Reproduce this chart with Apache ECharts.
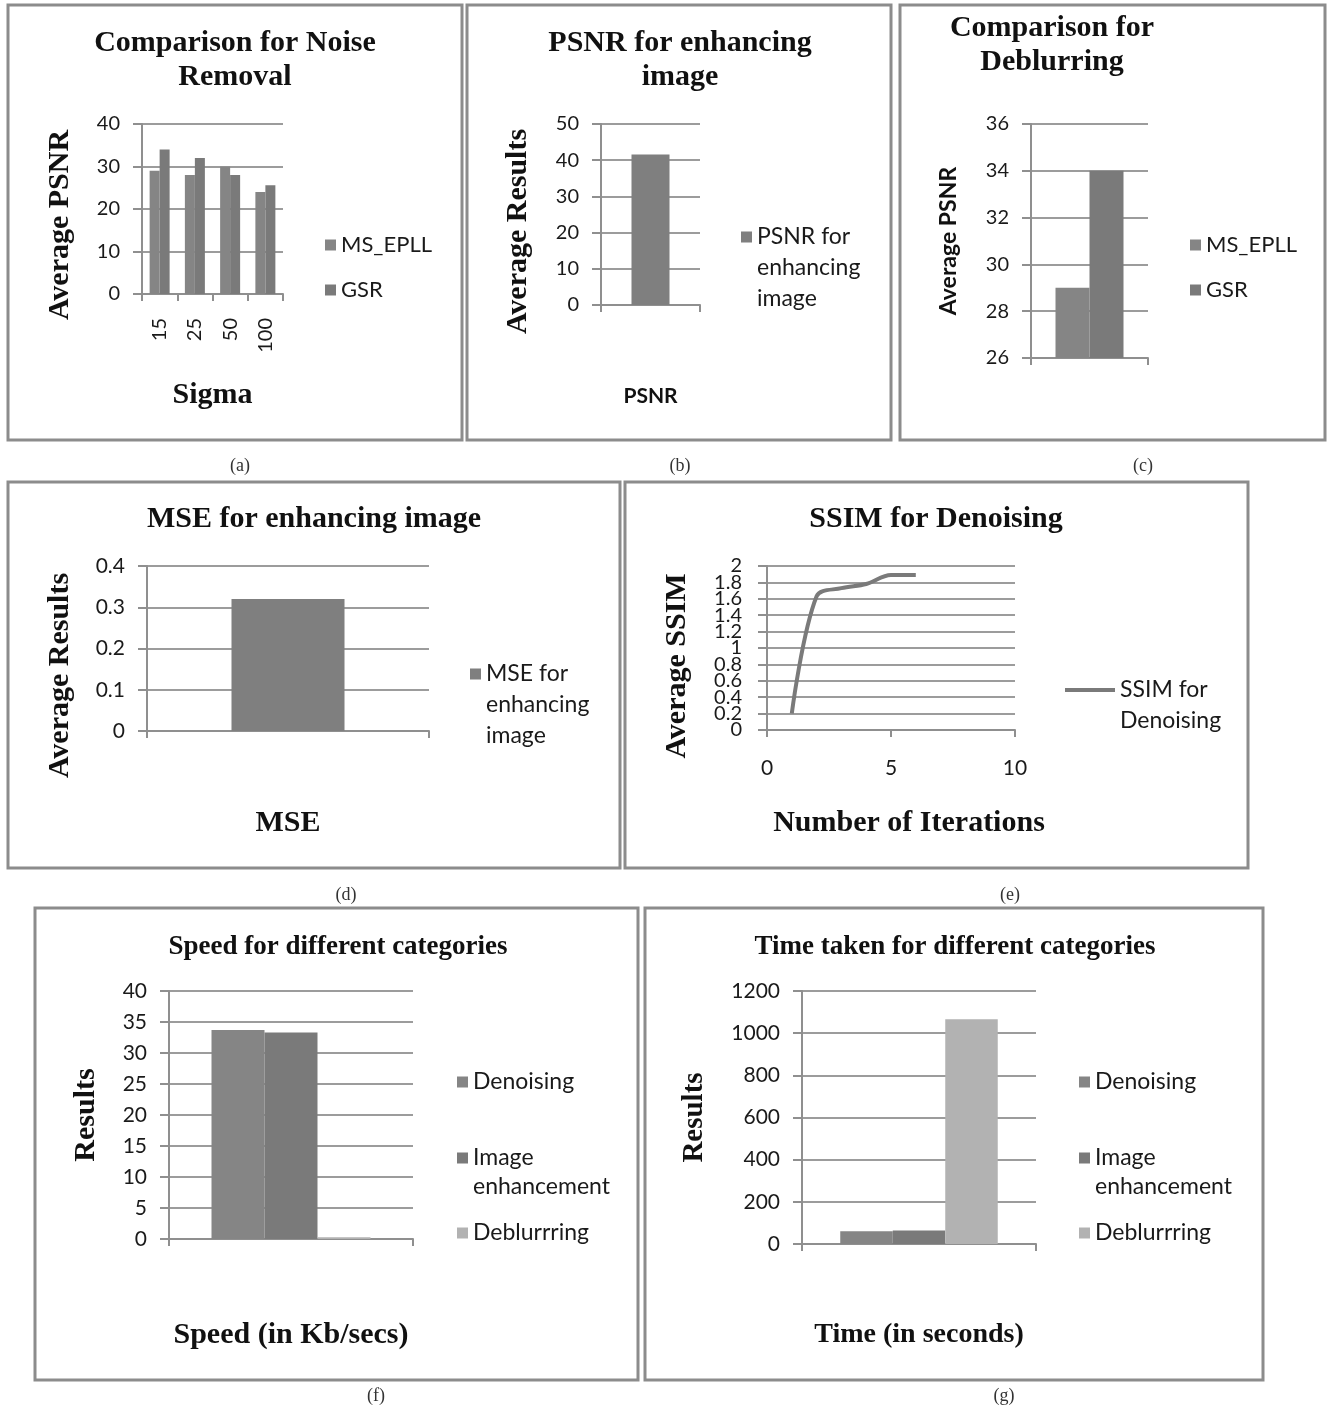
<!DOCTYPE html>
<html>
<head>
<meta charset="utf-8">
<script src="https://cdn.jsdelivr.net/npm/echarts@6/dist/echarts.min.js"></script>
<style>html,body{margin:0;padding:0;background:#fff;}#c{width:1328px;height:1409px;}</style>
</head>
<body>
<div id="c"></div>
<script>
// ---------- data ----------
const noiseSigma = ['15', '25', '50', '100'];
const noiseMSEPLL = [29, 28, 30, 24];
const noiseGSR = [34, 32, 28, 25.6];
const psnrEnhance = [41.6];
const deblurMSEPLL = [29];
const deblurGSR = [34];
const mseEnhance = [0.32];
const ssimIterations = [1, 2, 3, 4, 5, 6];
const ssimValues = [0.2, 1.63, 1.73, 1.78, 1.89, 1.89];
const categoryNames = ['Denoising', 'Image enhancement', 'Deblurrring'];
const speedValues = [33.7, 33.3, 0.3];
const timeValues = [60, 64, 1066];
// axis ranges [min, max, interval]
const rangeA = [0, 40, 10];
const rangeB = [0, 50, 10];
const rangeC = [26, 36, 2];
const rangeD = [0, 0.4, 0.1];
const rangeEy = [0, 2, 0.2];
const rangeEx = [0, 10, 5];
const rangeF = [0, 40, 5];
const rangeG = [0, 1200, 200];

// ---------- styles ----------
const SERIF = '"Liberation Serif", "Times New Roman", serif';
const SANS = 'Lato, "Open Sans", sans-serif';
const AX = '#8f8f8f';
const GRIDC = '#9c9c9c';
const C1 = '#858585', C2 = '#7a7a7a', C3 = '#b2b2b2';
const fmt = v => String(+(+v).toFixed(6));

function nameStyle(size, pad, family, weight) {
  return {fontFamily: family || SERIF, fontWeight: weight || 'bold', fontSize: size, color: '#111', padding: pad || 0};
}
function yAxis(gi, r, name, gap, nsz, pad, fam, lsz, extraLabel) {
  return {
    type: 'value', gridIndex: gi, min: r[0], max: r[1], interval: r[2],
    name: name, nameLocation: 'middle', nameGap: gap, nameTextStyle: nameStyle(nsz, pad, fam),
    axisLine: {show: true, lineStyle: {color: AX, width: 2}},
    axisTick: {show: true, length: 9, lineStyle: {color: AX, width: 2}},
    splitLine: {show: true, lineStyle: {color: GRIDC, width: 2}},
    axisLabel: Object.assign({fontFamily: SANS, fontSize: lsz || 21, color: '#1a1a1a', margin: 22,
      showMinLabel: true, showMaxLabel: true, hideOverlap: false, formatter: fmt}, extraLabel || {})
  };
}
function xCat(gi, cats, name, gap, nsz, pad, fam, showLabel, rotate) {
  return {
    type: 'category', gridIndex: gi, data: cats,
    name: name, nameLocation: 'middle', nameGap: gap, nameTextStyle: nameStyle(nsz, pad, fam),
    axisLine: {show: true, lineStyle: {color: AX, width: 2}},
    axisTick: {show: true, length: 7, lineStyle: {color: AX, width: 2}},
    splitLine: {show: false},
    axisLabel: {show: showLabel, rotate: rotate || 0, fontFamily: SANS, fontSize: 20, color: '#1a1a1a', margin: 24}
  };
}
const wrapMap = {
  'PSNR for enhancing image': 'PSNR for\nenhancing\nimage',
  'MSE for enhancing image': 'MSE for\nenhancing\nimage',
  'SSIM for Denoising': 'SSIM for\nDenoising',
  'Image enhancement': 'Image\nenhancement'
};
// icon path that draws a mark at the top of a taller (invisible) box so it aligns with the first text line
function topIcon(w, h, boxH) {
  return 'path://M0,0 L' + w + ',0 L' + w + ',' + h + ' L0,' + h + ' Z M0,' + boxH + ' L0.01,' + boxH + ' L0.01,' + (boxH - 0.01) + ' Z';
}
function legend(left, top, names, opts) {
  const o = opts || {};
  return {
    left: left, top: top, orient: 'vertical', itemGap: o.gap || 21, padding: 0,
    selectedMode: false, data: names,
    icon: o.icon || 'rect', itemWidth: o.w || 11, itemHeight: o.h || 11,
    formatter: n => wrapMap[n] || n,
    textStyle: {fontFamily: SANS, fontSize: o.size || 23, color: '#1a1a1a', lineHeight: o.lh || 24}
  };
}
function title(text, x, top, size) {
  return {text: text, left: x, top: top, textAlign: 'center', padding: 0,
    textStyle: {fontFamily: SERIF, fontWeight: 'bold', fontSize: size, color: '#111', lineHeight: 34}};
}

// panel (e): the crowded 0..2 labels are split over two axes (even / odd ticks) so none is dropped
const ssimYMain = yAxis(4, rangeEy, 'Average SSIM', 75, 30, [0, 36, 0, 0], SERIF, 20,
  {margin: 25, formatter: (v, i) => (i % 2 === 0 ? fmt(v) : '')});
const ssimYOdd = {
  type: 'value', gridIndex: 4, position: 'left', min: rangeEy[0], max: rangeEy[1], interval: rangeEy[2],
  axisLine: {show: false},
  axisTick: {show: true, length: 9, lineStyle: {color: AX, width: 2}},
  splitLine: {show: false},
  axisLabel: {fontFamily: SANS, fontSize: 20, color: '#1a1a1a', margin: 25,
    showMinLabel: false, showMaxLabel: false, formatter: (v, i) => (i % 2 === 1 ? fmt(v) : '')}
};

const option = {
  animation: false,
  backgroundColor: '#fff',
  title: [
    title('Comparison for Noise\nRemoval', 235, 26, 30),
    title('PSNR for enhancing\nimage', 680, 26, 30),
    title('Comparison for\nDeblurring', 1052, 11, 30),
    title('MSE for enhancing image', 314, 502, 30),
    title('SSIM for Denoising', 936, 502, 30),
    title('Speed for different categories', 338, 930, 27),
    title('Time taken for different categories', 955, 930, 27)
  ],
  grid: [
    {left: 142, top: 124, width: 141, height: 170},
    {left: 601, top: 124, width: 99, height: 181},
    {left: 1031, top: 124, width: 117, height: 234},
    {left: 147, top: 566, width: 282, height: 165},
    {left: 767, top: 566, width: 248, height: 164},
    {left: 169, top: 991, width: 244, height: 248},
    {left: 802, top: 991, width: 234, height: 253}
  ],
  xAxis: [
    xCat(0, noiseSigma, 'Sigma', 86, 30, 0, SERIF, true, 90),
    xCat(1, [''], 'PSNR', 81, 21, 0, SANS, false),
    xCat(2, [''], '', 20, 17, 0, SANS, false),
    xCat(3, [''], 'MSE', 77, 30, 0, SERIF, false),
    {
      type: 'value', gridIndex: 4, min: rangeEx[0], max: rangeEx[1], interval: rangeEx[2],
      name: 'Number of Iterations', nameLocation: 'middle', nameGap: 78,
      nameTextStyle: nameStyle(30, [0, 0, 0, 36]),
      axisLine: {show: true, lineStyle: {color: AX, width: 2}},
      axisTick: {show: true, length: 7, lineStyle: {color: AX, width: 2}},
      splitLine: {show: false},
      axisLabel: {fontFamily: SANS, fontSize: 21, color: '#1a1a1a', margin: 28, showMinLabel: true, showMaxLabel: true}
    },
    xCat(5, [''], 'Speed (in Kb/secs)', 81, 30, 0, SERIF, false),
    xCat(6, [''], 'Time (in seconds)', 77, 28, 0, SERIF, false)
  ],
  yAxis: [
    yAxis(0, rangeA, 'Average PSNR', 67, 30, [0, 32, 0, 0], SERIF, 20),
    yAxis(1, rangeB, 'Average Results', 68, 30, [0, 34, 0, 0], SERIF, 20),
    yAxis(2, rangeC, 'Average PSNR', 71, 23, 0, SANS, 20),
    yAxis(3, rangeD, 'Average Results', 72, 30, [0, 54, 0, 0], SERIF, 21),
    ssimYMain,
    yAxis(5, rangeF, 'Results', 68, 30, 0, SERIF, 21),
    yAxis(6, rangeG, 'Results', 93, 29, 0, SERIF, 21),
    ssimYOdd
  ],
  legend: [
    legend(325, 233, ['MS_EPLL', 'GSR'], {size: 22}),
    legend(741, 237 - 15.5, ['PSNR for enhancing image'], {lh: 31, h: 73, icon: topIcon(11, 11, 73)}),
    legend(1190, 233, ['MS_EPLL', 'GSR'], {size: 22}),
    legend(470, 674 - 15.5, ['MSE for enhancing image'], {lh: 31, h: 73, icon: topIcon(11, 11, 73)}),
    legend(1065, 690 - 15.5, ['SSIM for Denoising'], {lh: 31, w: 50, h: 35, icon: topIcon(50, 4, 35)}),
    legend(457, 1070, ['Denoising']),
    legend(457, 1158 - 14.5, ['Image enhancement'], {lh: 29, h: 40, icon: topIcon(11, 11, 40)}),
    legend(457, 1221, ['Deblurrring']),
    legend(1079, 1070, ['Denoising']),
    legend(1079, 1158 - 14.5, ['Image enhancement'], {lh: 29, h: 40, icon: topIcon(11, 11, 40)}),
    legend(1079, 1221, ['Deblurrring'])
  ],
  series: [
    {type: 'bar', name: 'MS_EPLL', xAxisIndex: 0, yAxisIndex: 0, data: noiseMSEPLL, barWidth: 10, barGap: '0%', itemStyle: {color: C1}},
    {type: 'bar', name: 'GSR', xAxisIndex: 0, yAxisIndex: 0, data: noiseGSR, barWidth: 10, barGap: '0%', itemStyle: {color: C2}},
    {type: 'bar', name: 'PSNR for enhancing image', xAxisIndex: 1, yAxisIndex: 1, data: psnrEnhance, barWidth: 38, itemStyle: {color: '#7f7f7f'}},
    {type: 'bar', name: 'MS_EPLL', xAxisIndex: 2, yAxisIndex: 2, data: deblurMSEPLL, barWidth: 34, barGap: '0%', itemStyle: {color: C1}},
    {type: 'bar', name: 'GSR', xAxisIndex: 2, yAxisIndex: 2, data: deblurGSR, barWidth: 34, barGap: '0%', itemStyle: {color: C2}},
    {type: 'bar', name: 'MSE for enhancing image', xAxisIndex: 3, yAxisIndex: 3, data: mseEnhance, barWidth: 113, itemStyle: {color: '#7f7f7f'}},
    {type: 'line', name: 'SSIM for Denoising', xAxisIndex: 4, yAxisIndex: 4,
      data: ssimIterations.map((x, i) => [x, ssimValues[i]]), smooth: 0.35, showSymbol: false,
      lineStyle: {color: '#7a7a7a', width: 4}, itemStyle: {color: '#7a7a7a'}},
    {type: 'bar', name: categoryNames[0], xAxisIndex: 5, yAxisIndex: 5, data: [speedValues[0]], barWidth: 53, barGap: '0%', itemStyle: {color: C1}},
    {type: 'bar', name: categoryNames[1], xAxisIndex: 5, yAxisIndex: 5, data: [speedValues[1]], barWidth: 53, barGap: '0%', itemStyle: {color: C2}},
    {type: 'bar', name: categoryNames[2], xAxisIndex: 5, yAxisIndex: 5, data: [speedValues[2]], barWidth: 53, barGap: '0%', itemStyle: {color: C3}},
    {type: 'bar', name: categoryNames[0], xAxisIndex: 6, yAxisIndex: 6, data: [timeValues[0]], barWidth: 52.5, barGap: '0%', itemStyle: {color: C1}},
    {type: 'bar', name: categoryNames[1], xAxisIndex: 6, yAxisIndex: 6, data: [timeValues[1]], barWidth: 52.5, barGap: '0%', itemStyle: {color: C2}},
    {type: 'bar', name: categoryNames[2], xAxisIndex: 6, yAxisIndex: 6, data: [timeValues[2]], barWidth: 52.5, barGap: '0%', itemStyle: {color: C3}}
  ],
  graphic: []
};

const panels = [
  [8, 5, 454, 435], [467, 5, 424, 435], [900, 5, 425, 435],
  [8, 482, 612, 386], [625, 482, 623, 386],
  [35, 908, 603, 472], [645, 908, 618, 472]
];
panels.forEach(p => option.graphic.push({
  type: 'rect', shape: {x: p[0], y: p[1], width: p[2], height: p[3]},
  style: {fill: 'none', stroke: '#8c8c8c', lineWidth: 3}, silent: true, z: 100
}));
const captions = [['(a)', 240, 466], ['(b)', 680, 466], ['(c)', 1143, 466], ['(d)', 346, 895], ['(e)', 1010, 895], ['(f)', 376, 1396], ['(g)', 1004, 1396]];
captions.forEach(c => option.graphic.push({
  type: 'text', x: c[1], y: c[2],
  style: {text: c[0], fontFamily: SERIF, fontSize: 18, fill: '#333', align: 'center', verticalAlign: 'middle'}, silent: true
}));

const chart = echarts.init(document.getElementById('c'), null, {renderer: 'canvas', width: 1328, height: 1409});
chart.setOption(option);
</script>
</body>
</html>
